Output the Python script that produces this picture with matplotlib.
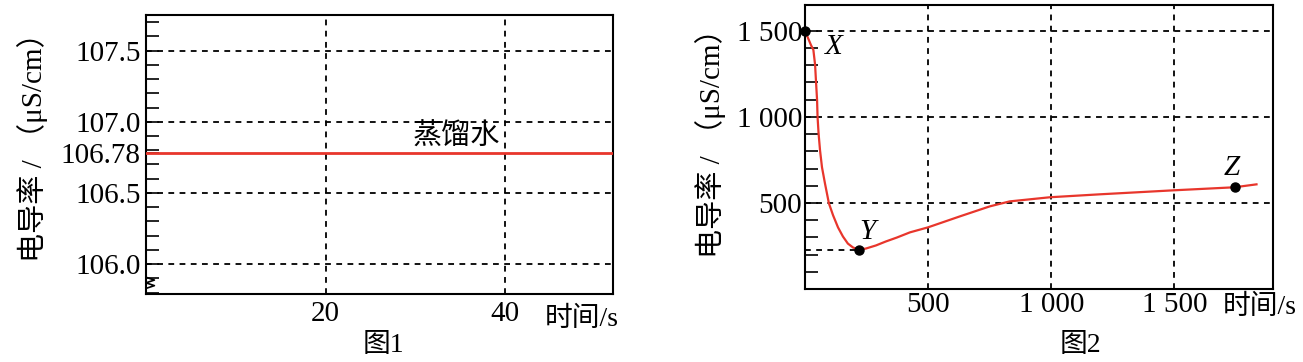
import matplotlib

matplotlib.use("Agg")
import matplotlib.pyplot as plt
from matplotlib.ticker import FixedLocator, MultipleLocator

plt.rcParams["font.family"] = ["Liberation Serif", "Noto Sans CJK SC"]

# 图1: distilled water
water_time = [0, 52]
water_cond = [106.78, 106.78]
fig1_yticks = [106.0, 106.5, 106.78, 107.0, 107.5]
fig1_ylabels = ["106.0", "106.5", "106.78", "107.0", "107.5"]
fig1_grid_y = [106.0, 106.5, 107.0, 107.5]
fig1_xticks = [20, 40]

# 图2: conductivity curve
curve_time = [0, 12, 24, 34, 41, 45, 49, 51, 55, 61, 69, 81, 97, 114, 134, 154,
              174, 195, 219, 247, 288, 328, 373, 426, 499, 629, 750, 831, 994,
              1196, 1492, 1744, 1833]
curve_cond = [1500, 1459, 1418, 1389, 1302, 1197, 1098, 999, 906, 806, 707, 614,
              498, 428, 358, 305, 264, 241, 229, 235, 253, 276, 299, 329, 358,
              422, 480, 509, 533, 550, 573, 591, 608]
point_names = ["X", "Y", "Z"]
point_time = [0, 220, 1744]
point_cond = [1500, 228, 590]
fig2_yticks = [500, 1000, 1500]
fig2_ylabels = ["500", "1 000", "1 500"]
fig2_xticks = [500, 1000, 1500]
fig2_xlabels = ["500", "1 000", "1 500"]

W, H = 1303, 362
RED = "#e8362c"
DASH = (0, (3.2, 3.0))
GRID = dict(color="black", linestyle=DASH, linewidth=1.3, zorder=1)


def px(x, y):
    return x / W, 1 - y / H


fig = plt.figure(figsize=(W / 100, H / 100), dpi=100)

# ---------------- 图1 ----------------
ax1 = fig.add_axes([146 / W, 1 - 294 / H, 467 / W, 279 / H])
ax1.set_xlim(0, 52)
ax1.set_ylim(105.79, 107.75)
for y in fig1_grid_y:
    ax1.axhline(y, **GRID)
for x in fig1_xticks:
    ax1.axvline(x, **GRID)
ax1.plot(water_time, water_cond, color=RED, linewidth=2.0, zorder=3)
ax1.yaxis.set_major_locator(FixedLocator(fig1_yticks))
ax1.set_yticklabels(fig1_ylabels)
ax1.yaxis.set_minor_locator(MultipleLocator(0.1))
ax1.set_xticks(fig1_xticks)
ax1.set_xticklabels([str(v) for v in fig1_xticks])
ax1.tick_params(axis="y", which="both", direction="in", length=9, width=1.2,
                labelsize=21, pad=4)
ax1.tick_params(axis="x", length=0, labelsize=21, pad=5)
ax1.text(34.6, 106.89, "蒸馏水", fontsize=21, ha="center", va="center", zorder=4)
# axis break mark at the bottom of the y axis
ax1.plot([0, 0.018, 0.0, 0.018, 0.0], [0.060, 0.050, 0.040, 0.030, 0.020],
         transform=ax1.transAxes, color="black", linewidth=1.2, clip_on=False)

# ---------------- 图2 ----------------
ax2 = fig.add_axes([805 / W, 1 - 289 / H, 468 / W, 284 / H])
ax2.set_xlim(0, 1900)
ax2.set_ylim(0, 1650)
for y in fig2_yticks:
    ax2.axhline(y, **GRID)
for x in fig2_xticks:
    ax2.axvline(x, **GRID)
ax2.plot([0, point_time[1]], [point_cond[1], point_cond[1]], **GRID)
ax2.plot(curve_time, curve_cond, color=RED, linewidth=1.6, zorder=3)
ax2.plot(point_time, point_cond, "o", color="black", markersize=6.5, zorder=4,
         clip_on=False)
offsets = [(21, -12), (6, 13), (-2, 14)]
for name, t, c, off in zip(point_names, point_time, point_cond, offsets):
    ax2.annotate(name, (t, c), xytext=off, textcoords="offset points",
                 ha="center", va="center", fontsize=21, style="italic")
ax2.yaxis.set_major_locator(FixedLocator(fig2_yticks))
ax2.set_yticklabels(fig2_ylabels)
ax2.yaxis.set_minor_locator(FixedLocator(list(range(100, 1600, 100))))
ax2.set_xticks(fig2_xticks)
ax2.set_xticklabels(fig2_xlabels)
ax2.tick_params(axis="y", which="both", direction="in", length=9, width=1.2,
                labelsize=21, pad=2)
ax2.tick_params(axis="x", length=0, labelsize=21, pad=2)

for ax in (ax1, ax2):
    for sp in ax.spines.values():
        sp.set_linewidth(1.5)

# labels outside the axes
ylab = "电导率 / （μS/cm）"
fig.text(*px(33, 140), ylab, rotation=90, fontsize=21, ha="center", va="center")
fig.text(*px(711, 136), ylab, rotation=90, fontsize=21, ha="center", va="center")
fig.text(*px(545, 319), "时间/s", fontsize=20, ha="left", va="center")
fig.text(*px(1223, 307), "时间/s", fontsize=20, ha="left", va="center")
fig.text(*px(383, 346), "图1", fontsize=20, ha="center", va="center")
fig.text(*px(1080, 345), "图2", fontsize=20, ha="center", va="center")

fig.savefig("out.png", dpi=100)
